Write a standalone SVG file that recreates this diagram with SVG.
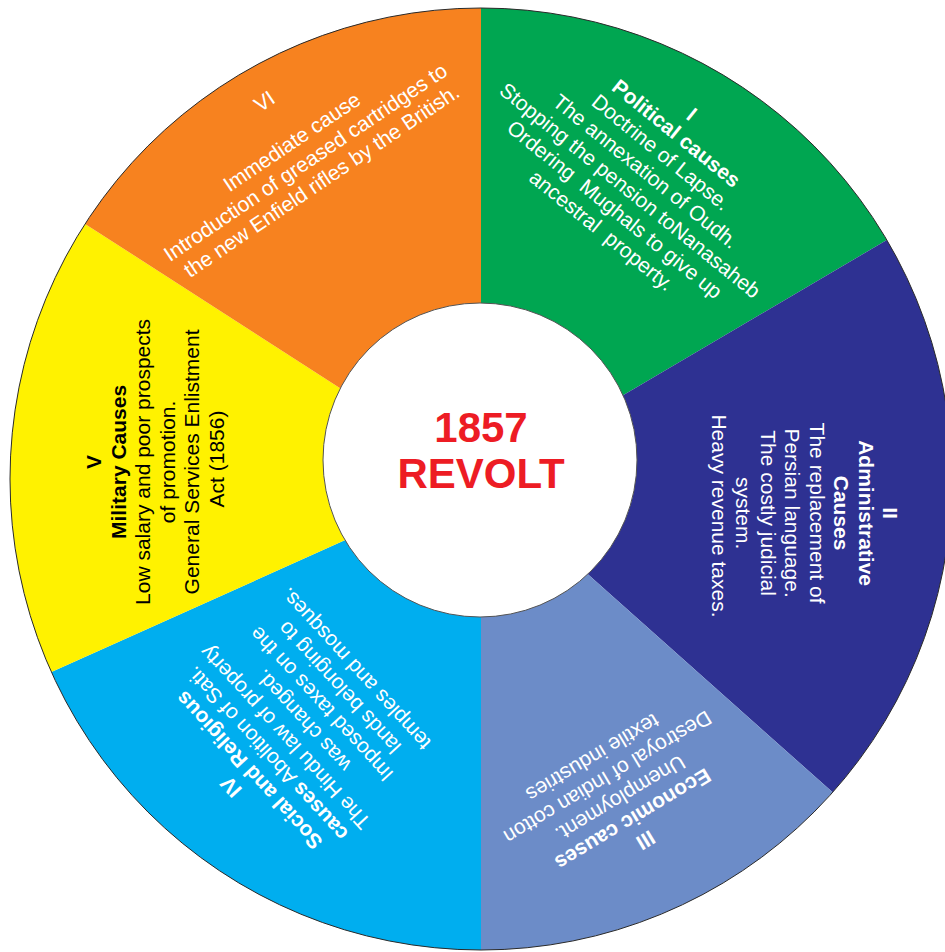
<svg xmlns="http://www.w3.org/2000/svg" width="945" height="952" viewBox="0 0 945 952">
<style>
.t{font-family:"Liberation Sans",Arial,sans-serif;font-size:21px;text-anchor:middle}
.w{fill:#ffffff}
.k{fill:#000000}
.b{font-weight:bold}
.c{font-family:"Liberation Sans",Arial,sans-serif;font-size:42px;font-weight:bold;fill:#ED1C24;text-anchor:middle}
</style>
<rect width="945" height="952" fill="#ffffff"/>
<g id="sector-I">
<path d="M481,479 L481,8 A471,471 0 0 1 886.8,240 Z" fill="#00A651"/>
<text class="t w" transform="translate(648,173) rotate(39)">
<tspan class="b" x="0" y="-66">I</tspan>
<tspan class="b" x="0" y="-41.5">Political causes</tspan>
<tspan x="0" y="-17">Doctrine of Lapse.</tspan>
<tspan x="0" y="7.5">The annexation of Oudh.</tspan>
<tspan x="0" y="32">Stopping the pension toNanasaheb</tspan>
<tspan x="0" y="56.5">Ordering&#160; Mughals to give up</tspan>
<tspan x="0" y="81">ancestral&#160; property.</tspan>
</text>
</g>
<g id="sector-II">
<path d="M481,479 L886.8,240 A471,471 0 0 1 832.6,792.3 Z" fill="#2E3192"/>
<text class="t w" transform="translate(805,516) rotate(90)">
<tspan class="b" x="0" y="-78.25">II</tspan>
<tspan class="b" x="0" y="-53.75">Administrative</tspan>
<tspan class="b" x="0" y="-29.25">Causes</tspan>
<tspan x="0" y="-4.75">The replacement of</tspan>
<tspan x="0" y="19.75">Persian language.</tspan>
<tspan x="0" y="44.25">The costly judicial</tspan>
<tspan x="0" y="68.75">system.</tspan>
<tspan x="0" y="93.25">Heavy revenue taxes.</tspan>
</text>
</g>
<g id="sector-III">
<path d="M481,479 L832.6,792.3 A471,471 0 0 1 481,950 Z" fill="#6C8CC8"/>
<text class="t w" transform="translate(618,800) rotate(149)">
<tspan class="b" x="0" y="-41.5">III</tspan>
<tspan class="b" x="0" y="-17">Economic causes</tspan>
<tspan x="0" y="7.5">Unemployment.</tspan>
<tspan x="0" y="32">Destroyal of Indian cotton</tspan>
<tspan x="0" y="56.5">textile industries</tspan>
</text>
</g>
<g id="sector-IV">
<path d="M481,479 L481,950 A471,471 0 0 1 51.4,672.1 Z" fill="#00AEEF"/>
<text class="t w" transform="translate(292,727) rotate(227.5)">
<tspan class="b" x="0" y="-78.25">IV</tspan>
<tspan class="b" x="0" y="-53.75">Social and Religious</tspan>
<tspan x="0" y="-29.25"><tspan class="b">causes</tspan> Abolition of Sati.</tspan>
<tspan x="0" y="-4.75">The Hindu law of property</tspan>
<tspan x="0" y="19.75">was changed.</tspan>
<tspan x="0" y="44.25">Imposed taxes on the</tspan>
<tspan x="0" y="68.75">lands belonging to</tspan>
<tspan x="0" y="93.25">temples and mosques.</tspan>
</text>
</g>
<g id="sector-V">
<path d="M481,479 L51.4,672.1 A471,471 0 0 1 85.1,223.9 Z" fill="#FFF200"/>
<text class="t k" transform="translate(155,459) rotate(-90)">
<tspan class="b" x="0" y="-53.75">V</tspan>
<tspan class="b" x="0" y="-29.25">Military Causes</tspan>
<tspan x="0" y="-4.75">Low salary and poor prospects</tspan>
<tspan x="0" y="19.75">of promotion.</tspan>
<tspan x="0" y="44.25">General Services Enlistment</tspan>
<tspan x="0" y="68.75">Act (1856)</tspan>
</text>
</g>
<g id="sector-VI">
<path d="M481,479 L85.1,223.9 A471,471 0 0 1 481,8 Z" fill="#F7821F"/>
<text class="t w" transform="translate(294,140) rotate(-34)">
<tspan x="0" y="-41.5">VI</tspan>
<tspan x="0" y="7.5">Immediate cause</tspan>
<tspan x="0" y="32">Introduction of greased cartridges to</tspan>
<tspan x="0" y="56.5">the new Enfield rifles by the British.</tspan>
</text>
</g>
<circle cx="481" cy="479" r="471" fill="none" stroke="#2a2a2a" stroke-width="1"/>
<g id="center">
<circle cx="480" cy="460" r="157" fill="#ffffff" stroke="#555555" stroke-width="1"/>
<text class="c" x="481" y="442">1857</text>
<text class="c" x="481" y="488">REVOLT</text>
</g>
</svg>
